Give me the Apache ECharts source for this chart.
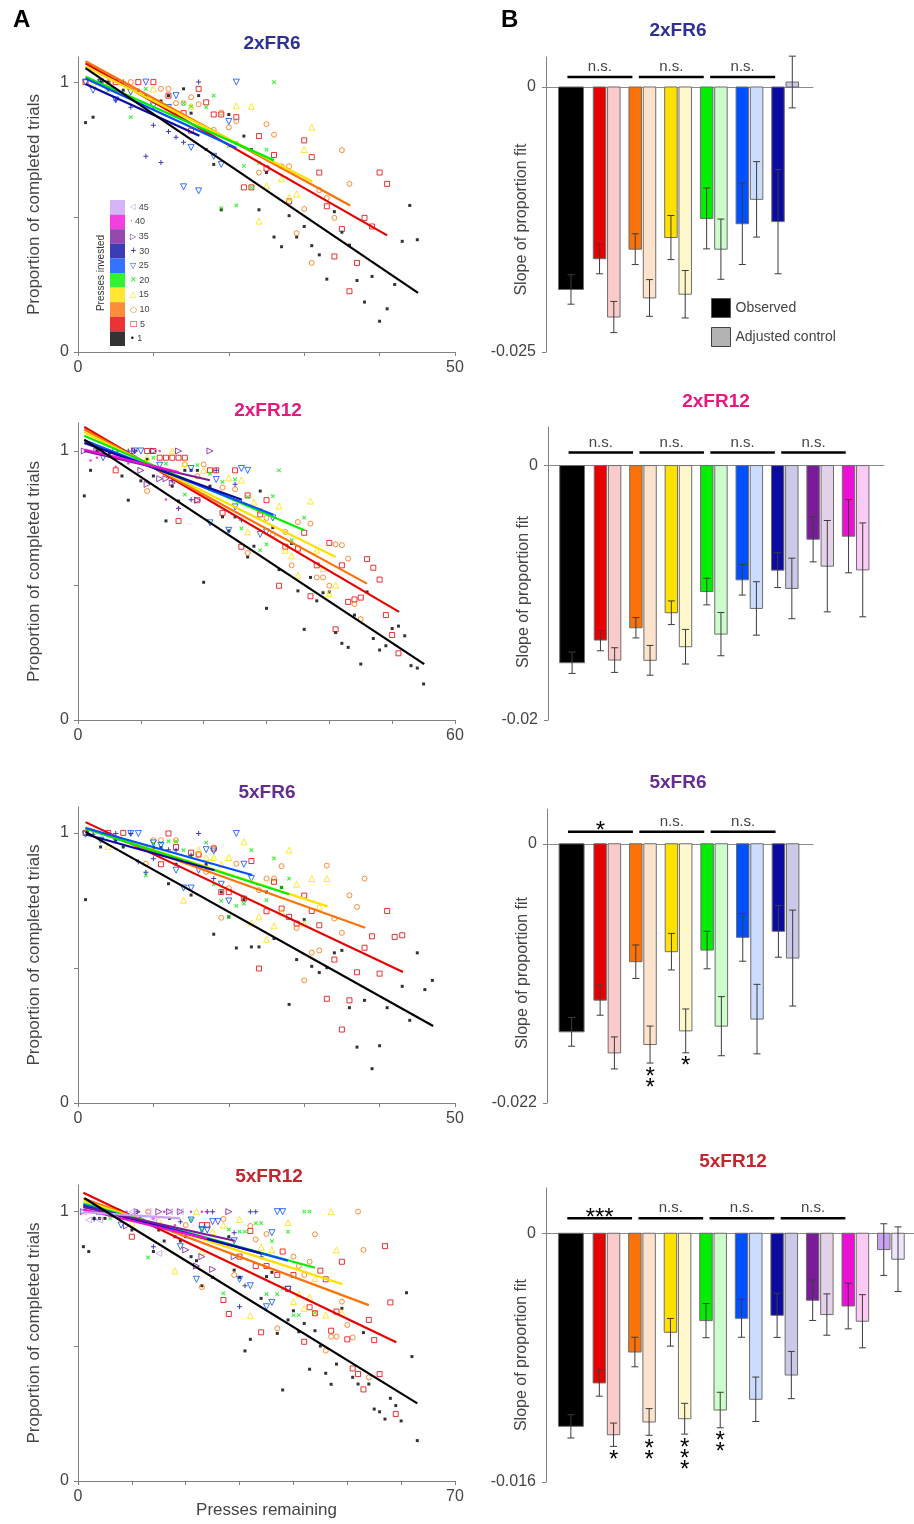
<!DOCTYPE html>
<html>
<head>
<meta charset="utf-8">
<script src="https://cdn.jsdelivr.net/npm/echarts@6/dist/echarts.min.js"></script>
<style>
  html, body { margin: 0; padding: 0; background: #fff; }
  #chart { width: 914px; height: 1524px; }
</style>
</head>
<body>
<div id="chart"></div>
<script>
// groups = presses invested
const groupNames = ['1', '5', '10', '15', '20', '25', '30', '35', '40', '45']
const groupColors = ['#000000', '#e60000', '#fb7208', '#ffe100', '#00ee00', '#0050ff', '#0b0ba2', '#7a1c9a', '#ec10d6', '#c9a2f2']
const controlColors = ['#b3b3b3', '#f9cbcb', '#fde3cc', '#fff8cc', '#ccfbcc', '#ccdcff', '#cacae8', '#e4d1ea', '#fbcbf6', '#efe5fa']
const legendGlyphs = ['•', '□', '○', '△', '×', '▽', '+', '▷', '·', '◁']

const panelTitles = ['2xFR6', '2xFR12', '5xFR6', '5xFR12']
const titleColors = ['#2e3192', '#e6197d', '#662d91', '#c1272d']
const xMaxes = [50, 60, 50, 70]
const slopeMins = [-0.025, -0.02, -0.022, -0.016]

// ---- A: proportion of completed trials vs presses remaining ----
const pts2xFR6 = [
  [[1,0.85],[2,0.87],[3,1],[4,1],[5,0.97],[6,0.97],[8,0.97],[9,0.95],[10,0.93],[11,0.93],[12,0.95],[13,0.885],[14,0.975],[15,0.885],[16,0.95],[17,0.75],[18,0.695],[19,0.527],[20,0.88],[21,0.774],[22,0.8],[23,0.75],[24,0.527],[25,0.665],[26,0.426],[27,0.39],[28,0.505],[29,0.426],[30,0.465],[31,0.394],[32,0.36],[33,0.27],[34,0.52],[35,0.444],[36,0.396],[37,0.265],[38,0.185],[39,0.28],[40,0.114],[41,0.16],[42,0.25],[43,0.41],[44,0.543],[45,0.416]],
  [[1,1],[3,1],[5,1],[8,1],[10,1],[12,0.95],[14,0.885],[15,0.82],[16,0.975],[17,0.925],[18,0.88],[19,0.88],[21,0.87],[22,0.61],[23,0.61],[24,0.8],[25,0.68],[26,0.73],[28,0.558],[30,0.784],[31,0.722],[32,0.665],[33,0.54],[34,0.354],[35,0.456],[36,0.225],[37,0.33],[38,0.497],[39,0.465],[40,0.665],[41,0.623]],
  [[1,1],[4,1],[7,1],[11,0.975],[12,0.975],[13,0.922],[14,0.922],[15,0.944],[16,0.918],[18,0.823],[19,0.887],[20,0.832],[21,0.855],[24,0.665],[25,0.844],[26,0.805],[27,0.688],[28,0.688],[29,0.44],[30,0.53],[31,0.33],[32,0.6],[33,0.57],[34,0.497],[35,0.748],[36,0.623]],
  [[2,1],[6,1],[10,0.975],[15,0.91],[21,0.912],[23,0.91],[24,0.485],[25,0.616],[27,0.642],[28,0.572],[29,0.585],[30,0.75],[31,0.833]],
  [[4,0.97],[7,0.87],[9,0.975],[14,0.922],[15,0.91],[17,0.907],[18,0.95],[19,0.533],[20,0.764],[21,0.543],[22,0.69],[23,0.61],[24,0.7],[25,0.75],[26,1]],
  [[1,1],[2,0.97],[3,1],[5,0.934],[7,0.963],[9,1],[10,0.912],[12,0.906],[13,0.95],[14,0.612],[15,0.758],[16,0.597],[18,0.725],[19,0.695],[20,0.854],[21,1]],
  [[3,1],[4,0.974],[5,0.934],[6,1],[7,0.907],[9,0.725],[10,0.84],[11,0.702],[12,0.817],[13,0.796],[14,0.777],[16,1]],
  [], [], []
]
const pts2xFR12 = [
  [[1,0.833],[2,0.928],[3,1],[5,0.99],[7,0.907],[8,0.817],[10,0.889],[11,0.969],[12,0.907],[14,0.74],[15,0.869],[16,0.814],[17,0.928],[18,0.928],[19,0.928],[20,0.512],[21,0.869],[23,0.755],[24,0.703],[25,0.755],[27,0.606],[28,0.646],[29,0.851],[30,0.415],[31,0.715],[32,0.559],[34,0.656],[35,0.48],[36,0.337],[37,0.53],[38,0.443],[39,0.473],[40,0.476],[41,0.325],[42,0.285],[43,0.27],[44,0.39],[45,0.208],[46,0.476],[47,0.303],[48,0.26],[49,0.276],[50,0.34],[51,0.349],[52,0.313],[53,0.202],[54,0.193],[55,0.134]],
  [[6,0.928],[11,1],[12,1],[13,0.975],[14,0.975],[15,0.975],[16,0.975],[17,0.975],[16,0.74],[19,0.817],[21,0.928],[22,0.928],[23,0.77],[25,0.928],[26,0.644],[27,0.835],[29,0.764],[30,0.817],[32,0.499],[33,0.644],[35,0.637],[36,0.696],[37,0.46],[38,0.575],[40,0.658],[41,0.337],[42,0.575],[43,0.439],[44,0.448],[45,0.455],[46,0.598],[47,0.566],[48,0.522],[49,0.39],[50,0.316],[51,0.248]],
  [[6,0.975],[11,0.851],[17,0.95],[19,0.906],[20,0.95],[23,0.864],[25,0.858],[27,0.621],[29,0.777],[30,0.751],[31,0.69],[33,0.699],[34,0.575],[35,0.736],[37,0.73],[38,0.53],[39,0.53],[40,0.499],[41,0.653],[42,0.65],[43,0.6],[44,0.431],[45,0.375]],
  [[11,0.975],[15,1],[17,0.953],[20,0.928],[24,0.9],[26,0.892],[27,0.699],[28,0.81],[32,0.795],[33,0.631],[34,0.61],[35,0.538],[37,0.814],[38,0.631],[39,0.563],[40,0.47],[41,0.501]],
  [[12,0.975],[14,0.953],[17,0.838],[19,0.947],[21,0.916],[23,0.885],[25,0.894],[26,0.712],[27,0.829],[29,0.631],[30,0.653],[31,0.832],[32,0.928],[34,0.668],[36,0.752]],
  [[4,0.975],[9,1],[10,1],[13,0.947],[18,0.935],[21,0.733],[22,0.894],[24,0.705],[25,0.792],[26,0.935],[27,0.928],[29,0.69],[30,0.699],[31,0.751]],
  [[8,1],[9,1],[15,0.889],[16,0.786],[18,0.819],[22,0.928],[25,0.876],[26,0.743]],
  [[1,1],[3,1],[6,1],[9,1],[12,1],[16,1],[21,1],[10,0.928],[11,0.876],[13,0.897],[14,0.897],[15,0.881],[19,0.817]],
  [[2,0.965],[3,0.975],[6,0.941],[8,0.953],[13,1],[14,0.82],[16,0.788]],
  []
]
const pts5xFR6 = [
  [[1,0.753],[3,0.948],[4,0.995],[5,0.973],[6,0.948],[8,0.948],[9,0.948],[10,0.946],[11,0.946],[12,0.812],[13,0.884],[15,0.77],[17,0.884],[18,0.625],[19,0.781],[20,0.689],[21,0.574],[22,0.753],[23,0.578],[24,0.578],[25,0.781],[26,0.609],[27,0.798],[28,0.365],[29,0.531],[30,0.679],[31,0.506],[32,0.483],[33,0.501],[34,0.556],[35,0.565],[36,0.353],[37,0.207],[38,0.38],[39,0.127],[40,0.212],[41,0.353],[43,0.432],[44,0.306],[45,0.556],[46,0.42],[47,0.454]],
  [[1,1],[4,1],[6,1],[11,0.884],[12,0.998],[13,0.948],[15,0.927],[16,0.92],[18,0.942],[19,0.781],[20,0.781],[22,0.757],[23,0.896],[24,0.498],[25,0.71],[26,0.819],[27,0.72],[28,0.689],[29,0.664],[30,0.768],[31,0.711],[32,0.658],[33,0.386],[34,0.531],[35,0.272],[36,0.38],[37,0.484],[38,0.575],[39,0.617],[40,0.479],[41,0.711],[42,0.615],[43,0.621]],
  [[1,1],[9,0.886],[10,0.973],[11,0.973],[13,0.973],[16,0.92],[17,0.856],[18,0.946],[19,0.686],[20,0.796],[21,0.886],[24,0.788],[25,0.831],[26,0.831],[27,0.877],[29,0.648],[30,0.454],[31,0.557],[32,0.565],[33,0.879],[34,0.683],[35,0.63],[36,0.769],[37,0.726],[38,0.831]],
  [[4,0.95],[14,0.751],[16,0.938],[17,0.909],[18,0.909],[19,0.884],[20,0.909],[22,0.967],[23,0.667],[24,0.689],[25,0.606],[26,0.656],[27,0.707],[28,0.936],[29,0.81],[30,0.664],[31,0.831],[32,0.726],[33,0.831]],
  [[9,0.843],[10,0.96],[11,0.963],[12,0.969],[13,0.969],[14,0.936],[15,0.911],[17,0.964],[18,0.81],[19,0.748],[20,0.689],[21,0.73],[22,0.738],[23,0.936],[25,0.751],[26,0.906],[27,0.798],[28,0.831]],
  [[1,0.995],[3,0.973],[5,0.973],[7,0.998],[8,0.998],[10,0.963],[11,0.954],[13,0.862],[14,0.796],[15,0.796],[16,0.862],[17,0.938],[18,0.933],[19,0.81],[20,0.748],[21,0.998],[22,0.884],[23,0.831]],
  [[2,0.995],[5,0.998],[7,0.998],[8,0.893],[9,0.854],[10,0.904],[12,0.938],[13,0.936],[15,0.917],[16,0.998],[18,0.831]],
  [], [], []
]
const pts5xFR12 = [
  [[1,0.87],[2,0.852],[3,0.975],[4,0.975],[5,0.975],[9,0.975],[10,0.932],[11,0.975],[14,0.852],[15,0.932],[16,0.891],[17,0.975],[18,0.907],[19,0.891],[20,0.907],[21,0.833],[22,0.818],[23,0.725],[25,0.756],[28,0.907],[29,0.783],[30,0.756],[31,0.483],[32,0.526],[34,0.678],[35,0.759],[36,0.775],[37,0.548],[38,0.338],[39,0.598],[40,0.632],[41,0.554],[42,0.585],[43,0.415],[44,0.558],[45,0.501],[46,0.4],[47,0.359],[48,0.434],[49,0.641],[51,0.385],[52,0.36],[53,0.551],[54,0.36],[55,0.267],[56,0.257],[57,0.23],[58,0.307],[59,0.28],[60,0.223],[61,0.699],[62,0.462],[63,0.15]],
  [[10,0.907],[23,0.95],[24,0.95],[27,0.672],[28,0.62],[30,0.833],[32,0.928],[33,0.798],[34,0.552],[35,0.798],[37,0.765],[38,0.852],[39,0.713],[40,0.765],[42,0.517],[43,0.645],[44,0.623],[45,0.781],[46,0.749],[47,0.558],[48,0.629],[49,0.814],[50,0.526],[51,0.418],[52,0.397],[53,0.34],[54,0.598],[55,0.523],[56,0.397],[57,0.872],[58,0.663],[59,0.249]],
  [[13,1],[20,0.95],[23,0.72],[27,0.973],[29,0.765],[32,0.947],[33,0.897],[35,0.917],[37,0.567],[40,0.833],[41,0.798],[42,0.765],[43,0.814],[44,0.916],[44,0.623],[46,0.484],[47,0.536],[48,0.536],[49,0.666],[50,0.579],[51,0.533],[52,1],[53,0.858],[54,0.385]],
  [[10,0.957],[15,0.969],[18,0.78],[22,1],[23,0.852],[25,0.926],[27,0.95],[30,0.971],[32,0.614],[34,0.868],[36,0.858],[39,0.959],[40,0.666],[41,0.694],[42,0.641],[43,0.682],[44,0.752],[46,0.616],[47,1],[48,0.858],[49,0.625]],
  [[6,0.975],[13,0.83],[21,0.971],[23,0.932],[27,0.697],[28,0.934],[30,0.926],[31,0.926],[33,0.957],[34,0.957],[35,0.694],[36,0.891],[37,0.694],[38,0.715],[39,0.926],[40,0.616],[41,0.616],[42,1],[43,1],[44,0.625]],
  [[4,1],[8,0.95],[19,0.87],[21,0.969],[22,0.749],[23,0.934],[24,0.932],[25,0.963],[26,0.963],[29,0.892],[30,0.749],[32,0.725],[35,0.647],[36,0.663],[36,0.922],[37,1],[38,1],[39,0.712]],
  [[3,0.973],[6,1],[11,1],[14,0.87],[19,0.963],[24,1],[25,1],[29,0.922],[30,0.647],[31,0.725],[32,1],[33,1],[34,0.833]],
  [[1,1],[4,1],[8,1],[9,0.947],[11,1],[12,0.969],[15,1],[17,1],[19,1],[20,0.858],[22,0.798],[23,0.833],[25,0.786],[28,1],[29,0.833]],
  [[2,1],[5,1],[9,1],[14,0.975],[16,1],[18,0.95],[21,1],[23,1],[24,1]],
  [[1,1],[2,0.969],[4,0.969],[7,1],[10,1],[13,1],[14,0.975],[15,0.845],[17,1],[19,1]]
]

// fitted lines [x start, y start, x end, y end] per group
const fit2xFR6 = [[1,1.052,45.1,0.219],[1,1.07,41,0.432],[1,1.077,36.1,0.543],[1,1.058,31.1,0.632],[1,1.02,26,0.71],[1,1.013,21,0.756],[1,0.993,16.1,0.801],null,null,null]
const fit2xFR12 = [[1,1.042,55.1,0.208],[1,1.089,51.1,0.402],[1,1.08,46,0.507],[1,1.07,41,0.606],[1,1.057,36,0.705],[1,1.04,31.1,0.763],[1,1.03,26.1,0.819],[1,1.0,21,0.891],[1,1.005,16,0.922],null]
const fit5xFR6 = [[1,1.004,47.1,0.285],[1,1.04,43.1,0.485],[1,1.02,38.1,0.649],[1,1.02,33.1,0.728],[1,1.016,28,0.773],[1,1.018,23.1,0.844],[1,0.995,18.1,0.862],null,null,null]
const fit5xFR12 = [[1.2,1.05,63,0.288],[1,1.07,59.1,0.515],[1,1.05,54,0.653],[1,1.04,49.1,0.731],[1,1.03,44,0.792],[1,1.025,39,0.818],[1,1.02,34,0.845],[1,1.017,29.1,0.892],[1,1.008,24,0.9],[1,0.998,19,0.975]]

// ---- B: slope of proportion fit, observed vs adjusted control ----
const obs2xFR6 = [-0.0191, -0.0162, -0.0153, -0.0142, -0.0124, -0.0129, -0.0127]
const obsErr2xFR6 = [0.00139, 0.00142, 0.00145, 0.00208, 0.00287, 0.00385, 0.00492]
const ctl2xFR6 = [null, -0.0217, -0.0199, -0.01955, -0.0153, -0.0106, 0.00047]
const ctlErr2xFR6 = [null, 0.00147, 0.00173, 0.00224, 0.00284, 0.00356, 0.00244]
const sig2xFR6 = ['n.s.', 'n.s.', 'n.s.']
const stars2xFR6 = []

const obs2xFR12 = [-0.0155, -0.01372, -0.01275, -0.01157, -0.0099, -0.00898, -0.00822, -0.00579, -0.00555]
const obsErr2xFR12 = [0.00084, 0.00084, 0.0008, 0.00093, 0.00105, 0.0012, 0.00137, 0.00178, 0.00288]
const ctl2xFR12 = [null, -0.01529, -0.01531, -0.01424, -0.01325, -0.01123, -0.00966, -0.00791, -0.0082]
const ctlErr2xFR12 = [null, 0.00097, 0.00117, 0.00136, 0.0017, 0.0021, 0.00238, 0.00359, 0.00369]
const sig2xFR12 = ['n.s.', 'n.s.', 'n.s.', 'n.s.']
const stars2xFR12 = []

const obs5xFR6 = [-0.01596, -0.01327, -0.01001, -0.00916, -0.00902, -0.00794, -0.00743]
const obsErr5xFR6 = [0.00122, 0.00128, 0.00142, 0.00155, 0.00159, 0.00203, 0.0022]
const ctl5xFR6 = [null, -0.01775, -0.01704, -0.01588, -0.01548, -0.01488, -0.0097]
const ctlErr5xFR6 = [null, 0.00136, 0.00157, 0.00186, 0.00251, 0.00295, 0.00407]
const sig5xFR6 = ['*', 'n.s.', 'n.s.']
const stars5xFR6 = ['', '', '**', '*', '', '', '']

const obs5xFR12 = [-0.01242, -0.00963, -0.00764, -0.00637, -0.00562, -0.00547, -0.00528, -0.00431, -0.00468, -0.00105]
const obsErr5xFR12 = [0.00075, 0.00085, 0.00095, 0.00089, 0.0011, 0.00122, 0.00142, 0.0013, 0.00147, 0.00166]
const ctl5xFR12 = [null, -0.01296, -0.01214, -0.01193, -0.01137, -0.01068, -0.00912, -0.00523, -0.00566, -0.00167]
const ctlErr5xFR12 = [null, 0.00075, 0.00086, 0.00099, 0.00114, 0.00143, 0.00152, 0.00133, 0.00171, 0.00208]
const sig5xFR12 = ['***', 'n.s.', 'n.s.', 'n.s.']
const stars5xFR12 = ['', '*', '**', '***', '**', '', '', '', '', '']

const panels = [
  { pts: pts2xFR6, fit: fit2xFR6, obs: obs2xFR6, obsErr: obsErr2xFR6, ctl: ctl2xFR6, ctlErr: ctlErr2xFR6, sig: sig2xFR6, stars: stars2xFR6 },
  { pts: pts2xFR12, fit: fit2xFR12, obs: obs2xFR12, obsErr: obsErr2xFR12, ctl: ctl2xFR12, ctlErr: ctlErr2xFR12, sig: sig2xFR12, stars: stars2xFR12 },
  { pts: pts5xFR6, fit: fit5xFR6, obs: obs5xFR6, obsErr: obsErr5xFR6, ctl: ctl5xFR6, ctlErr: ctlErr5xFR6, sig: sig5xFR6, stars: stars5xFR6 },
  { pts: pts5xFR12, fit: fit5xFR12, obs: obs5xFR12, obsErr: obsErr5xFR12, ctl: ctl5xFR12, ctlErr: ctlErr5xFR12, sig: sig5xFR12, stars: stars5xFR12 },
]

// layout
const FONT = '"Liberation Sans", Arial, sans-serif'
const leftGrids = [
  { left: 78, top: 57, width: 377, height: 295 },
  { left: 78, top: 423, width: 377, height: 297 },
  { left: 78, top: 807, width: 377, height: 296 },
  { left: 78, top: 1185, width: 377, height: 296 },
]
const leftYMax = [1.093, 1.104, 1.096, 1.099]
const rightGrids = [
  { left: 546, top: 57, width: 267, height: 295 },
  { left: 548, top: 427, width: 336, height: 293 },
  { left: 547, top: 809, width: 266, height: 294 },
  { left: 546, top: 1188, width: 368, height: 294 },
]
const rightYMax = [0.00283, 0.00303, 0.00295, 0.00291]
const rightXMin = [-0.7, -0.68, -0.69, -0.7]
const rightXMax = [6.78, 8.8, 6.77, 9.65]
const rightNameShift = [30, 37, 34, 40]
const bracketLift = [0.00094, 0.00102, 0.00102, 0.00096]
const leftTitlePos = [[272, 34], [268, 401], [267, 783], [269, 1167]]
const rightTitlePos = [[678, 21], [716, 392], [678, 773], [733, 1152]]

const plusPath = 'path://M4,0H6V4H10V6H6V10H4V6H0V4H4Z'
const markerStyles = [
  { symbol: 'rect', size: 3, filled: true, rotate: 0 },
  { symbol: 'rect', size: 5, filled: false, rotate: 0 },
  { symbol: 'circle', size: 5, filled: false, rotate: 0 },
  { symbol: 'triangle', size: 6, filled: false, rotate: 0 },
  { symbol: plusPath, size: 5, filled: true, rotate: 45 },
  { symbol: 'triangle', size: 6, filled: false, rotate: 180 },
  { symbol: plusPath, size: 5, filled: true, rotate: 0 },
  { symbol: 'triangle', size: 6, filled: false, rotate: -90 },
  { symbol: 'circle', size: 2.5, filled: true, rotate: 0 },
  { symbol: 'triangle', size: 6, filled: false, rotate: 90 },
]

const grids = []
const xAxes = []
const yAxes = []
const series = []
const titles = [
  { text: 'A', left: 13, top: 8, padding: 0, textStyle: { fontSize: 24, fontWeight: 'bold', color: '#000', fontFamily: FONT } },
  { text: 'B', left: 501, top: 8, padding: 0, textStyle: { fontSize: 24, fontWeight: 'bold', color: '#000', fontFamily: FONT } },
]

// left scatter panels
panels.forEach((p, i) => {
  grids.push({ ...leftGrids[i], outerBoundsMode: 'none' })
  xAxes.push({
    gridIndex: i, type: 'value', min: 0, max: xMaxes[i], interval: 10,
    axisLine: { onZero: false, lineStyle: { color: '#808080', width: 1 } },
    axisTick: { length: 4, lineStyle: { color: '#808080' } },
    axisLabel: { customValues: [0, xMaxes[i]], color: '#444', fontSize: 16, margin: 8, fontFamily: FONT },
    splitLine: { show: false },
    name: i === 3 ? 'Presses remaining' : '',
    nameLocation: 'middle', nameGap: 21, nameMoveOverlap: false,
    nameTextStyle: { fontSize: 17, color: '#444', fontFamily: FONT },
  })
  yAxes.push({
    gridIndex: i, type: 'value', min: 0, max: leftYMax[i],
    axisLine: { show: true, onZero: false, lineStyle: { color: '#808080', width: 1 } },
    axisTick: { show: true, length: 4, customValues: [0, 0.5, 1], lineStyle: { color: '#808080' } },
    axisLabel: { customValues: [0, 1], color: '#444', fontSize: 16, margin: 9, fontFamily: FONT },
    splitLine: { show: false },
    name: 'Proportion of completed trials',
    nameLocation: 'middle', nameGap: 35, nameMoveOverlap: false,
    nameTextStyle: { fontSize: 17, color: '#444', fontFamily: FONT },
  })
  titles.push({
    text: panelTitles[i], left: leftTitlePos[i][0], top: leftTitlePos[i][1], textAlign: 'center', padding: 0,
    textStyle: { fontSize: 19, fontWeight: 'bold', color: titleColors[i], fontFamily: FONT },
  })

  p.pts.forEach((pts, g) => {
    if (!pts.length) return
    const m = markerStyles[g]
    series.push({
      type: 'scatter', name: groupNames[g], xAxisIndex: i, yAxisIndex: i,
      data: pts, symbol: m.symbol, symbolSize: m.size, symbolRotate: m.rotate,
      itemStyle: m.filled
        ? { color: groupColors[g], borderWidth: 0 }
        : { color: 'rgba(255,255,255,0)', borderColor: groupColors[g], borderWidth: 1 },
      z: 2, silent: true,
    })
  })
  p.fit.forEach((f, g) => {
    if (!f) return
    series.push({
      type: 'line', name: 'fit ' + groupNames[g], xAxisIndex: i, yAxisIndex: i,
      data: [[f[0], f[1]], [f[2], f[3]]], showSymbol: false, symbol: 'none',
      lineStyle: { color: groupColors[g], width: 2.2 },
      z: g === 0 ? 5 : 3, silent: true,
    })
  })
})

// right bar panels
panels.forEach((p, i) => {
  const gi = 4 + i
  grids.push({ ...rightGrids[i], outerBoundsMode: 'none' })
  xAxes.push({
    gridIndex: gi, type: 'value', min: rightXMin[i], max: rightXMax[i],
    axisLine: { onZero: true, lineStyle: { color: '#8a8a8a', width: 1 } },
    axisTick: { show: false }, axisLabel: { show: false }, splitLine: { show: false },
  })
  yAxes.push({
    gridIndex: gi, type: 'value', min: slopeMins[i], max: rightYMax[i],
    axisLine: { show: true, onZero: false, lineStyle: { color: '#808080', width: 1 } },
    axisTick: { show: true, length: 4, customValues: [slopeMins[i], 0], lineStyle: { color: '#808080' } },
    axisLabel: { customValues: [slopeMins[i], 0], color: '#444', fontSize: 16, margin: 10, fontFamily: FONT },
    splitLine: { show: false },
    name: 'Slope of proportion fit',
    nameLocation: 'middle', nameGap: 16, nameMoveOverlap: false,
    nameTextStyle: { fontSize: 16, color: '#444', fontFamily: FONT, padding: [0, rightNameShift[i], 0, 0] },
  })
  titles.push({
    text: panelTitles[i], left: rightTitlePos[i][0], top: rightTitlePos[i][1], textAlign: 'center', padding: 0,
    textStyle: { fontSize: 19, fontWeight: 'bold', color: titleColors[i], fontFamily: FONT },
  })

  const barRender = (fills) => (params, api) => {
    const x = api.value(0), v = api.value(1), w = api.value(2), k = api.value(3)
    const a = api.coord([x - w / 2, 0])
    const b = api.coord([x + w / 2, v])
    return {
      type: 'rect',
      shape: { x: a[0], y: Math.min(a[1], b[1]), width: b[0] - a[0], height: Math.abs(b[1] - a[1]) },
      style: { fill: fills[k], stroke: '#6e6e6e', lineWidth: 1 },
    }
  }
  series.push({
    type: 'custom', name: 'Observed', xAxisIndex: gi, yAxisIndex: gi,
    itemStyle: { color: '#000' },
    data: p.obs.map((v, k) => [k === 0 ? 0 : k - 0.2, v, k === 0 ? 0.7 : 0.35, k]),
    renderItem: barRender(groupColors), z: 2, silent: true,
  })
  const ctlData = []
  p.ctl.forEach((v, k) => { if (v !== null) ctlData.push([k + 0.2, v, 0.35, k]) })
  series.push({
    type: 'custom', name: 'Adjusted control', xAxisIndex: gi, yAxisIndex: gi,
    itemStyle: { color: '#b3b3b3' },
    data: ctlData, renderItem: barRender(controlColors), z: 2, silent: true,
  })

  // error bars
  const errData = []
  p.obs.forEach((v, k) => errData.push([k === 0 ? 0 : k - 0.2, v, p.obsErr[k]]))
  p.ctl.forEach((v, k) => { if (v !== null) errData.push([k + 0.2, v, p.ctlErr[k]]) })
  series.push({
    type: 'custom', name: 'sem', xAxisIndex: gi, yAxisIndex: gi, data: errData, z: 3, silent: true,
    renderItem: (params, api) => {
      const x = api.value(0), v = api.value(1), e = api.value(2)
      const t = api.coord([x, v + e]), b = api.coord([x, v - e])
      const cap = 3.5
      const st = { stroke: '#3c3c3c', lineWidth: 1 }
      return {
        type: 'group', children: [
          { type: 'line', shape: { x1: t[0], y1: t[1], x2: b[0], y2: b[1] }, style: st },
          { type: 'line', shape: { x1: t[0] - cap, y1: t[1], x2: t[0] + cap, y2: t[1] }, style: st },
          { type: 'line', shape: { x1: b[0] - cap, y1: b[1], x2: b[0] + cap, y2: b[1] }, style: st },
        ],
      }
    },
  })

  // significance brackets between observed and control groups
  series.push({
    type: 'custom', name: 'sig', xAxisIndex: gi, yAxisIndex: gi, z: 4, silent: true,
    data: p.sig.map((s, k) => [2 * k - 0.1, 2 * k + 1.72, bracketLift[i]]),
    renderItem: (params, api) => {
      const a = api.coord([api.value(0), api.value(2)])
      const b = api.coord([api.value(1), api.value(2)])
      const label = p.sig[params.dataIndex]
      const isStar = label.indexOf('*') >= 0
      return {
        type: 'group', children: [
          { type: 'line', shape: { x1: a[0], y1: a[1], x2: b[0], y2: b[1] }, style: { stroke: '#000', lineWidth: 2.6 } },
          {
            type: 'text', x: (a[0] + b[0]) / 2, y: isStar ? a[1] : a[1] - 10,
            style: {
              text: label, fill: isStar ? '#000' : '#444', fontFamily: FONT,
              fontSize: isStar ? 24 : 15, align: 'center', verticalAlign: 'middle',
            },
          },
        ],
      }
    },
  })

  // stars under control bars
  const starData = []
  p.stars.forEach((s, k) => { if (s) starData.push([k + 0.2, p.ctl[k] - p.ctlErr[k], s.length]) })
  if (starData.length) {
    series.push({
      type: 'custom', name: 'stars', xAxisIndex: gi, yAxisIndex: gi, data: starData, z: 4, silent: true,
      renderItem: (params, api) => {
        const c = api.coord([api.value(0), api.value(1)])
        const n = api.value(2)
        const children = []
        for (let j = 0; j < n; j++) {
          children.push({
            type: 'text', x: c[0], y: c[1] + 14 + 11 * j,
            style: { text: '*', fill: '#000', fontFamily: FONT, fontSize: 24, align: 'center', verticalAlign: 'middle' },
          })
        }
        return { type: 'group', children }
      },
    })
  }
})

const option = {
  animation: false,
  backgroundColor: '#fff',
  title: titles,
  legend: [
    {
      orient: 'vertical', left: 110, top: 200, padding: 0, itemGap: 0,
      itemWidth: 15, itemHeight: 14.6, icon: 'rect', selectedMode: false,
      data: groupNames.slice().reverse().map((n) => ({
        name: n, itemStyle: { color: groupColors[groupNames.indexOf(n)], borderWidth: 0 },
      })),
      formatter: (name) => {
        const g = groupNames.indexOf(name)
        return '{s' + g + '|' + legendGlyphs[g] + '} ' + name
      },
      textStyle: {
        fontSize: 9, color: '#444', fontFamily: FONT,
        rich: Object.fromEntries(groupColors.map((c, g) => ['s' + g, { color: c, fontSize: 8, fontFamily: 'DejaVu Sans' }])),
      },
    },
    {
      orient: 'vertical', left: 711, top: 298, padding: 0, itemGap: 9,
      itemWidth: 19, itemHeight: 19, icon: 'rect', selectedMode: false,
      data: [
        { name: 'Observed', itemStyle: { color: '#000', borderColor: '#555', borderWidth: 1 } },
        { name: 'Adjusted control', itemStyle: { color: '#b3b3b3', borderColor: '#444', borderWidth: 1 } },
      ],
      textStyle: { fontSize: 14, color: '#444', fontFamily: FONT },
    },
  ],
  graphic: [
    {
      type: 'text', x: 101, y: 273, rotation: Math.PI / 2,
      style: { text: 'Presses invested', fontSize: 10, fill: '#333', fontFamily: FONT, align: 'center', verticalAlign: 'middle' },
    },
  ],
  grid: grids,
  xAxis: xAxes,
  yAxis: yAxes,
  series,
}

const chart = echarts.init(document.getElementById('chart'))
chart.setOption(option)
window.addEventListener('resize', () => chart.resize())
</script>
</body>
</html>
